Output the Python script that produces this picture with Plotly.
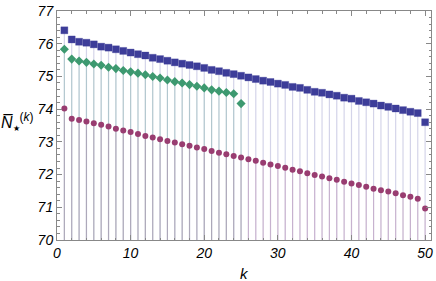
import plotly.graph_objects as go

k_blue = list(range(1, 51))
blue = [76.41, 76.13, 76.06, 76.03, 75.98, 75.91, 75.88, 75.83, 75.78, 75.73,
        75.68, 75.64, 75.57, 75.53, 75.48, 75.43, 75.39, 75.35, 75.31, 75.26,
        75.20, 75.16, 75.11, 75.07, 75.02, 74.97, 74.92, 74.87, 74.83, 74.78,
        74.74, 74.68, 74.65, 74.59, 74.53, 74.50, 74.45, 74.41, 74.35, 74.32,
        74.25, 74.21, 74.17, 74.11, 74.07, 74.02, 73.97, 73.92, 73.88, 73.60]

k_green = list(range(1, 26))
green = [75.83, 75.53, 75.47, 75.43, 75.38, 75.34, 75.28, 75.24, 75.18, 75.14,
         75.10, 75.05, 75.00, 74.95, 74.89, 74.84, 74.80, 74.75, 74.70, 74.65,
         74.59, 74.55, 74.51, 74.47, 74.17]

k_purple = list(range(1, 51))
purple = [74.02, 73.71, 73.67, 73.62, 73.57, 73.52, 73.47, 73.40, 73.35, 73.30,
          73.24, 73.18, 73.13, 73.08, 73.03, 72.98, 72.93, 72.88, 72.83, 72.78,
          72.72, 72.67, 72.62, 72.57, 72.52, 72.47, 72.42, 72.36, 72.31, 72.26,
          72.21, 72.15, 72.10, 72.04, 71.99, 71.94, 71.89, 71.84, 71.78, 71.73,
          71.68, 71.63, 71.57, 71.52, 71.48, 71.43, 71.37, 71.32, 71.26, 70.96]

x_ticks = [0, 10, 20, 30, 40, 50]
y_ticks = [70, 71, 72, 73, 74, 75, 76, 77]
Y_MIN, Y_MAX = 70, 77
X_MIN, X_MAX = 0, 50.8

BLUE = "#3d3d99"
GREEN = "#3d9970"
PURPLE = "#993d71"


def drops(xs, ys):
    dx, dy = [], []
    for x, y in zip(xs, ys):
        dx += [x, x, None]
        dy += [Y_MIN, y, None]
    return dx, dy


fig = go.Figure()
for xs, ys, col in [(k_blue, blue, "rgba(61,61,153,0.22)"),
                    (k_green, green, "rgba(61,153,112,0.22)"),
                    (k_purple, purple, "rgba(153,61,113,0.22)")]:
    dx, dy = drops(xs, ys)
    fig.add_trace(go.Scatter(x=dx, y=dy, mode="lines",
                             line=dict(color=col, width=1.2),
                             hoverinfo="skip", showlegend=False))

fig.add_trace(go.Scatter(x=k_blue, y=blue, mode="markers",
                         marker=dict(symbol="square", size=7, color=BLUE,
                                     line=dict(color="rgba(61,61,153,0.3)", width=1)),
                         showlegend=False))
fig.add_trace(go.Scatter(x=k_purple, y=purple, mode="markers",
                         marker=dict(symbol="circle", size=6, color=PURPLE,
                                     line=dict(width=0)),
                         showlegend=False))
fig.add_trace(go.Scatter(x=k_green, y=green, mode="markers",
                         marker=dict(symbol="diamond", size=7, color=GREEN,
                                     line=dict(width=0)),
                         showlegend=False))

tickfont = dict(family="Liberation Sans", size=14, color="black", style="italic")
axis_common = dict(showgrid=False, zeroline=False, showline=True, linecolor="#888888",
                   linewidth=1, mirror="allticks", ticks="inside", tickcolor="#888888",
                   tickfont=tickfont, ticklabeloverflow="allow")

fig.update_xaxes(range=[X_MIN, X_MAX], tickvals=x_ticks, ticklen=5,
                 minor=dict(dtick=2, tick0=0, ticks="inside", ticklen=2.5, tickcolor="#888888"),
                 **axis_common)
fig.update_yaxes(range=[Y_MIN, Y_MAX], tickvals=y_ticks, ticklen=5,
                 minor=dict(dtick=0.2, tick0=70, ticks="inside", ticklen=2.5, tickcolor="#888888"),
                 **axis_common)

fig.add_annotation(xref="paper", yref="paper", x=0.5, y=0, yshift=-33,
                   text="<i>k</i>", showarrow=False, yanchor="middle",
                   font=dict(family="Liberation Sans", size=15, color="black"))
fig.add_annotation(xref="paper", yref="y", x=0, xshift=-58, xanchor="left",
                   y=73.62, yanchor="middle", showarrow=False,
                   text=("<i>N\u0305</i><sub><span style='font-size:8px'>\u2605</span></sub>"
                         "<sup><span style='font-size:12px'>(<i>k</i>)</span></sup>"),
                   font=dict(family="Liberation Sans", size=16, color="black"))

fig.update_layout(width=436, height=281, margin=dict(l=57, r=3, t=7, b=41),
                  plot_bgcolor="white", paper_bgcolor="white")

fig.write_html("out.html", config={"displayModeBar": False},
               post_script="document.body.style.margin='0';document.body.style.padding='0';")
